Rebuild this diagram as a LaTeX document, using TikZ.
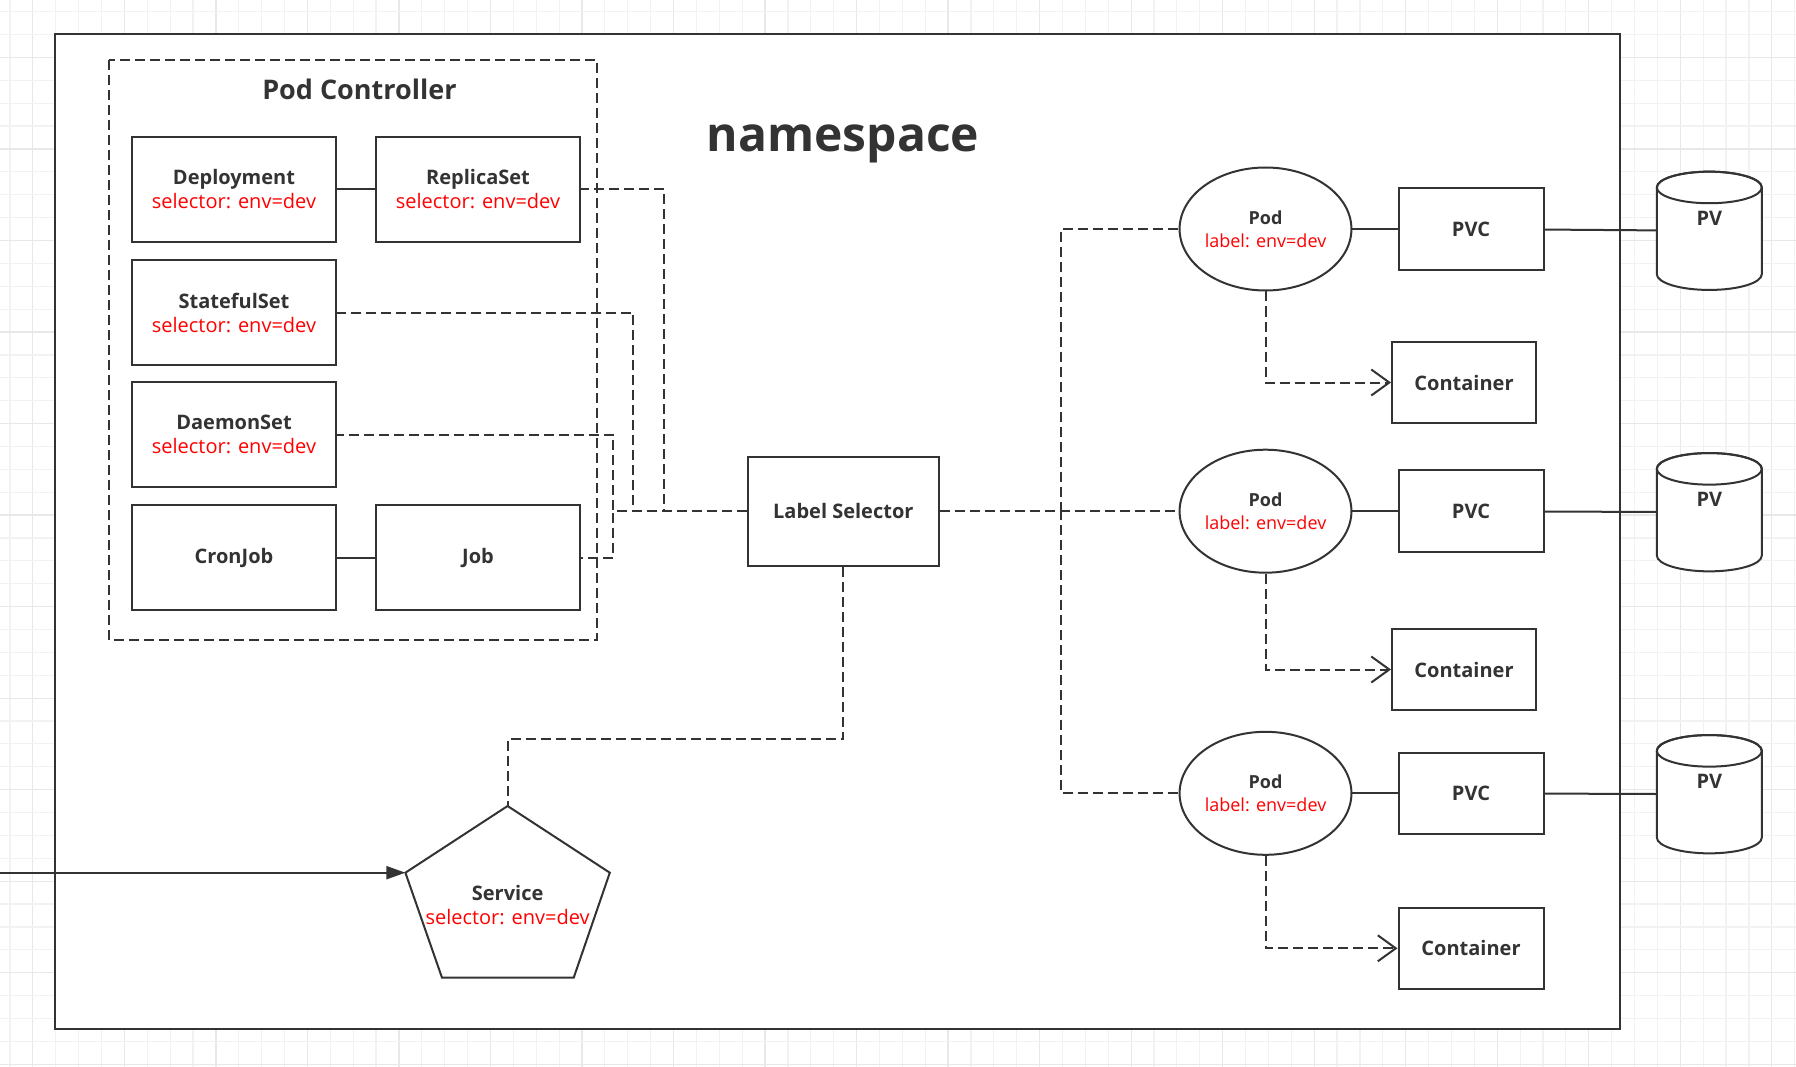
\documentclass[tikz,border=0pt]{standalone}
\usepackage{fontspec}
\setmainfont{Open Sans}
\usetikzlibrary{shapes.geometric,arrows.meta}
\definecolor{lc}{HTML}{333333}
\definecolor{tc}{HTML}{333333}
\definecolor{gminor}{HTML}{F2F2F2}
\definecolor{gmajor}{HTML}{E8E8E8}
\definecolor{sel}{HTML}{FF0000}
\newcommand{\boxfont}{\fontsize{20}{24}\selectfont}
\newcommand{\podfont}{\fontsize{18}{23}\selectfont}
\newcommand{\redtxt}[1]{\textcolor{sel}{\mdseries #1}}
\begin{document}
\begin{tikzpicture}[x=1pt,y=-1pt,
  ln/.style={draw=lc, line width=2pt},
  dl/.style={draw=lc, line width=2pt, dash pattern=on 10pt off 5pt},
  box/.style={ln, fill=white, rectangle, minimum width=204pt, minimum height=105pt,
    inner sep=0pt, align=center, font=\boxfont\bfseries, text=tc},
  pvcbox/.style={ln, fill=white, rectangle, minimum width=145pt, minimum height=81.5pt,
    inner sep=0pt, align=center, font=\boxfont\bfseries, text=tc},
  pod/.style={ln, fill=white, ellipse, minimum width=165pt, minimum height=123pt,
    inner sep=0pt, align=center, font=\podfont\bfseries, text=tc},
  pvnode/.style={rectangle, minimum width=105pt, minimum height=118.3pt, inner sep=0pt},
  txt/.style={inner sep=0pt, align=center, text=tc},
  openarr/.style={-{Straight Barb[length=18pt,width=26pt,line width=2pt]}},
  fillarr/.style={-{Triangle[length=19pt,width=13pt]}}
]
\useasboundingbox (0,0) rectangle (1796,1067);
\fill[white] (0,0) rectangle (1796,1067);
% background grid
\foreach \k in {0,...,78}{
  \pgfmathtruncatemacro{\m}{mod(\k,4)}
  \pgfmathsetmacro{\gx}{10+22.88*\k}
  \ifnum\m=1 \draw[gmajor, line width=1.2pt] (\gx,0) -- (\gx,1067);
  \else \draw[gminor, line width=1.2pt] (\gx,0) -- (\gx,1067); \fi
}
\foreach \k in {0,...,46}{
  \pgfmathtruncatemacro{\m}{mod(\k,4)}
  \pgfmathsetmacro{\gy}{11.7+22.88*\k}
  \ifnum\m=2 \draw[gmajor, line width=1.2pt] (0,\gy) -- (1796,\gy);
  \else \draw[gminor, line width=1.2pt] (0,\gy) -- (1796,\gy); \fi
}

% namespace frame
\draw[ln, fill=white] (54.5,34.3) rectangle (1619.7,1029);
\node[txt, anchor=base, font=\fontsize{48}{56}\selectfont\bfseries] (nstitle) at (843,152) {namespace};

% pod controller group
\draw[dl] (108.9,60) rectangle (596.9,640);
\node[txt, font=\fontsize{27}{32}\selectfont\bfseries] (pctitle) at (359.4,89.3) {Pod Controller};

\node[box] (dep) at (234,189.5) {Deployment\\\redtxt{selector: env=dev}};
\node[box] (rs)  at (478,189.5) {ReplicaSet\\\redtxt{selector: env=dev}};
\node[box] (sts) at (234,312.5) {StatefulSet\\\redtxt{selector: env=dev}};
\node[box] (ds)  at (234,434.5) {DaemonSet\\\redtxt{selector: env=dev}};
\node[box] (cj)  at (234,557.5) {CronJob};
\node[box] (job) at (478,557.5) {Job};

\draw[ln] (dep) -- (rs);
\draw[ln] (cj) -- (job);

% label selector
\node[box, minimum width=191pt, minimum height=109pt] (ls) at (843.3,511.2) {Label Selector};

\coordinate (xrs) at (664.3,0);
\coordinate (xsts) at (632.7,0);
\coordinate (xds) at (613.3,0);
% drawn from the label selector outwards so the shared leg keeps one dash phase
\draw[dl] (ls.west) -- (xrs |- ls.west) -- (rs.east -| xrs) -- (rs.east);
\draw[dl] (ls.west) -- (xsts |- ls.west) -- (sts.east -| xsts) -- (sts.east);
\draw[dl] (ls.west) -- (xds |- ls.west) -- (ds.east -| xds) -- (ds.east);
\draw[dl] (ls.west) -- (xds |- ls.west) -- (job.east -| xds) -- (job.east);

% pods
\node[pod] (pod1) at (1265.5,229) {Pod\\\redtxt{label: env=dev}};
\node[pod] (pod2) at (1265.5,511.2) {Pod\\\redtxt{label: env=dev}};
\node[pod] (pod3) at (1265.5,793.3) {Pod\\\redtxt{label: env=dev}};

\coordinate (xb) at (1060.6,0);
\draw[dl] (ls.east) -- (ls.east -| xb) |- (pod1.west);
\draw[dl] (ls.east) -- (pod2.west);
\draw[dl] (ls.east) -- (ls.east -| xb) |- (pod3.west);

% PVCs
\node[pvcbox] (pvc1) at (1471,229) {PVC};
\node[pvcbox] (pvc2) at (1471,511.2) {PVC};
\node[pvcbox] (pvc3) at (1471,793.3) {PVC};
\draw[ln] (pod1) -- (pvc1);
\draw[ln] (pod2) -- (pvc2);
\draw[ln] (pod3) -- (pvc3);

% containers
\node[pvcbox, minimum width=144pt] (ct1) at (1464,382.5) {Container};
\node[pvcbox, minimum width=144pt] (ct2) at (1464,669.5) {Container};
\node[pvcbox] (ct3) at (1471,948.3) {Container};
\draw[dl, openarr] (pod1.south) |- (ct1.west);
\draw[dl, openarr] (pod2.south) |- (ct2.west);
\draw[dl, openarr] (pod3.south) |- (ct3.west);

% PVs (cylinders)
\foreach \n/\cy in {pv1/230.8, pv2/512.2, pv3/794.2}{
  \node[pvnode] (\n) at (1709.3,\cy) {};
  \pgfmathsetmacro{\ty}{\cy-59.15+15.8}
  \pgfmathsetmacro{\by}{\cy+59.15-15.8}
  \draw[ln, fill=white] (1656.8,\ty) -- (1656.8,\by)
     arc[start angle=180, end angle=360, x radius=52.5pt, y radius=15.8pt]
     -- (1761.8,\ty) arc[start angle=0, end angle=180, x radius=52.5pt, y radius=15.8pt] -- cycle;
  \draw[ln] (1709.3,\ty) ellipse [x radius=52.5pt, y radius=15.8pt];
  \node[txt, font=\boxfont\bfseries] at (1709.3,\cy-12.5) {PV};
}
\draw[ln] (pvc1) -- (pv1);
\draw[ln] (pvc2) -- (pv2);
\draw[ln] (pvc3) -- (pv3);

% service pentagon
\coordinate (svcT) at (507.6,806);
\coordinate (svcR) at (609.8,872.7);
\coordinate (svcBR) at (573.7,977.7);
\coordinate (svcBL) at (442,977.7);
\coordinate (svcL) at (405.4,872.7);
\draw[ln, fill=white, line join=miter] (svcT) -- (svcR) -- (svcBR) -- (svcBL) -- (svcL) -- cycle;
\node[txt, font=\boxfont\bfseries] (svc) at (507.6,905.5) {Service\\\redtxt{selector: env=dev}};

\coordinate (ys) at (0,739.3);
\draw[dl] (ls.south) -- (ls.south |- ys) -| (svcT);

\coordinate (inlet) at (0,872.7);
\draw[ln, fillarr] (inlet) -- (svcL);
\end{tikzpicture}
\end{document}
